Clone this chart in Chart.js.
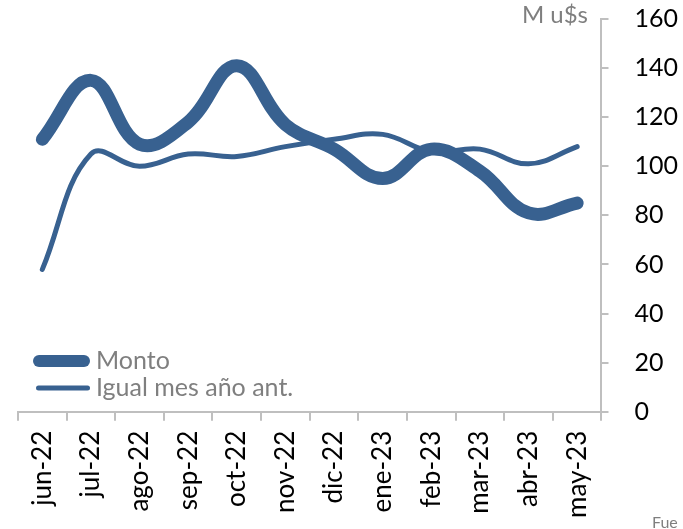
<!DOCTYPE html>
<html>
<head>
<meta charset="utf-8">
<script src="https://cdn.jsdelivr.net/npm/chart.js@4/dist/chart.umd.min.js"></script>
<style>
  html, body { margin: 0; padding: 0; background: #fff; }
  #wrap { width: 683px; height: 529px; position: relative; }
</style>
</head>
<body>
<div id="wrap"><canvas id="LineChart" width="683" height="529"></canvas></div>
<script>
const months = ["jun-22", "jul-22", "ago-22", "sep-22", "oct-22", "nov-22", "dic-22", "ene-23", "feb-23", "mar-23", "abr-23", "may-23"];
const monto = [111, 135, 109, 118, 141, 117, 107, 95, 107, 98, 81, 85];
const igualMes = [58, 105, 100, 105, 104, 108, 111, 113, 106, 107, 101, 108];
const yTicks = [0, 20, 40, 60, 80, 100, 120, 140, 160];

const blue = "#386190";
const grey = "#7f7f7f";
const axisGrey = "#bfbfbf";

// legend, unit label and source note drawn on the canvas
const extras = {
  id: "extras",
  afterDraw(chart) {
    const c = chart.ctx;
    c.save();
    c.lineCap = "round";
    const legendY = [361, 388];
    const legendW = [12, 5];
    chart.data.datasets.forEach(function (ds, i) {
      const y = legendY[i];
      const r = legendW[i] / 2;
      c.strokeStyle = ds.borderColor;
      c.lineWidth = legendW[i];
      c.beginPath();
      c.moveTo((i === 0 ? 33 : 36) + r, y);
      c.lineTo(90 - r, y);
      c.stroke();
      c.fillStyle = grey;
      c.font = "25px Lato";
      c.textBaseline = "middle";
      c.textAlign = "left";
      c.fillText(ds.label, 96, y);
    });
    c.font = "24px Lato";
    c.textAlign = "right";
    c.textBaseline = "middle";
    c.fillText("M u$s", 588, 15);
    c.font = "16px Lato";
    c.textAlign = "left";
    c.textBaseline = "alphabetic";
    c.fillText("Fue", 652, 528);
    c.restore();
  }
};

const ctx = document.getElementById("LineChart").getContext("2d");
new Chart(ctx, {
  type: "line",
  data: {
    labels: months,
    datasets: [
      {
        label: "Monto",
        data: monto,
        borderColor: blue,
        borderWidth: 13,
        borderCapStyle: "round",
        borderJoinStyle: "round",
        pointRadius: 0,
        tension: 0.4,
      },
      {
        label: "Igual mes año ant.",
        data: igualMes,
        borderColor: blue,
        borderWidth: 5,
        borderCapStyle: "round",
        borderJoinStyle: "round",
        pointRadius: 0,
        tension: 0.4,
      },
    ],
  },
  options: {
    responsive: false,
    animation: false,
    layout: { padding: { left: 18, top: 19, right: -21, bottom: 1 } },
    plugins: {
      legend: { display: false },
      tooltip: { enabled: false },
    },
    scales: {
      x: {
        offset: true,
        grid: { offset: true, drawOnChartArea: false, drawTicks: true, tickLength: 9, color: axisGrey, lineWidth: 2 },
        border: { color: axisGrey, width: 2 },
        ticks: { color: "#000", font: { family: "Lato", size: 26 }, minRotation: 90, maxRotation: 90, padding: 10 },
      },
      y: {
        position: "right",
        min: 0,
        max: 160,
        afterBuildTicks: function (axis) {
          axis.ticks = yTicks.map(function (v) { return { value: v }; });
        },
        afterFit: function (axis) {
          axis.paddingTop = 0;
        },
        grid: { drawOnChartArea: false, drawTicks: true, tickLength: 7, color: axisGrey, lineWidth: 2 },
        border: { color: axisGrey, width: 2 },
        ticks: { color: "#000", font: { family: "Lato", size: 25 }, padding: 26 },
      },
    },
  },
  plugins: [extras],
});
</script>
</body>
</html>
